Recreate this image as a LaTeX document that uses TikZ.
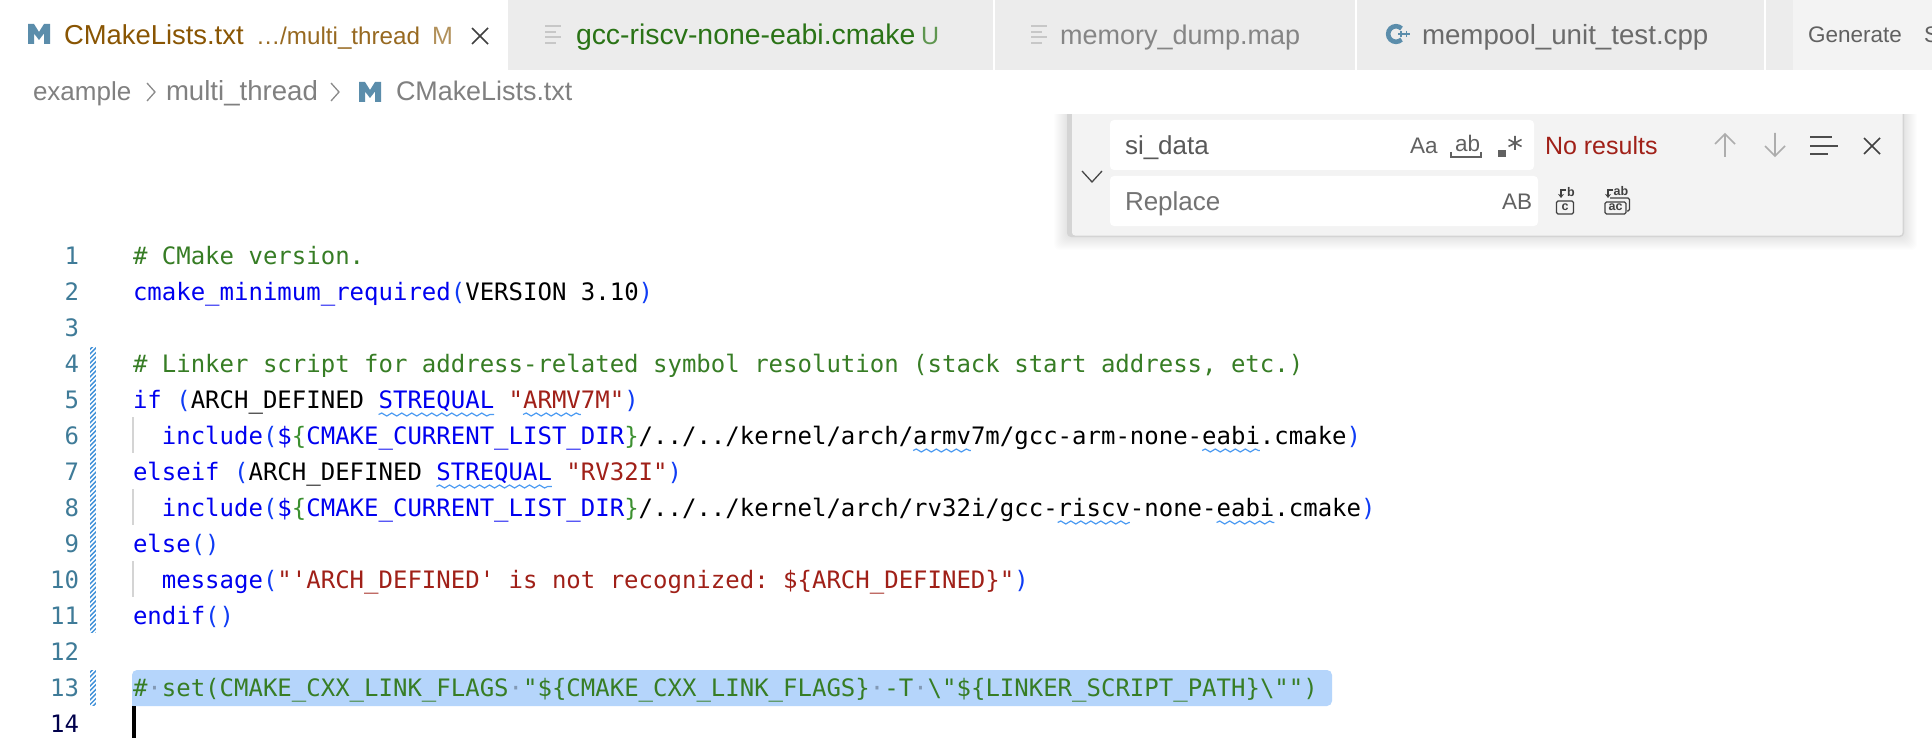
\documentclass[tikz,border=0pt]{standalone}
\usepackage{fontspec}
\setmainfont{Liberation Sans}
\setmonofont{DejaVu Sans Mono}
\usetikzlibrary{arrows.meta,decorations.pathmorphing}

\definecolor{iconblue}{HTML}{5B8DAB}
\definecolor{tabgray}{HTML}{ECECEC}
\definecolor{panelgray}{HTML}{F3F3F3}
\definecolor{modbrown}{HTML}{895503}
\definecolor{newgreen}{HTML}{2A7316}
\definecolor{cmt}{HTML}{377D25}
\definecolor{kwd}{HTML}{0000F0}
\definecolor{par}{HTML}{0F3CF5}
\definecolor{brc}{HTML}{3C9030}
\definecolor{str}{HTML}{A02018}
\definecolor{barblue}{HTML}{3F90D8}
\definecolor{squigblue}{HTML}{4C9BF2}
\definecolor{selblue}{HTML}{B5D5FB}
\definecolor{lnum}{HTML}{3F7B98}

\newcommand{\kw}[1]{\textcolor{kwd}{#1}}
\newcommand{\pr}[1]{\textcolor{par}{#1}}
\newcommand{\br}[1]{\textcolor{brc}{#1}}
\newcommand{\st}[1]{\textcolor{str}{#1}}
\newcommand{\sdot}{\textcolor{black!28!selblue}{·}}
\newcommand{\curdir}{\kw{\$}\br{\{}\kw{CMAKE\_CURRENT\_LIST\_DIR}\br{\}}}

\tikzset{
  ui/.style={inner sep=0pt, outer sep=0pt, anchor=base west},
  tabtext/.style={ui, font=\fontsize{27}{32}\selectfont},
  crumb/.style={ui, text=black!50, font=\fontsize{26}{32}\selectfont},
  findtext/.style={ui, font=\fontsize{26}{32}\selectfont},
  smalltext/.style={ui, text=black!62, font=\fontsize{22.5}{28}\selectfont},
  tinytext/.style={inner sep=0pt, outer sep=0pt, text=black!75, font=\fontsize{12.5}{14}\selectfont\bfseries},
  code/.style={ui, font=\ttfamily\fontsize{24}{36}\selectfont},
  linenum/.style={inner sep=0pt, outer sep=0pt, anchor=base east, text=lnum, font=\ttfamily\fontsize{24}{36}\selectfont},
  chev/.style={line width=1.3pt, black!45},
  fileline/.style={line width=2pt, black!22},
  squig/.style={squigblue, line width=1.2pt, decorate, decoration={snake, amplitude=1.5pt, segment length=10pt}},
  guide/.style={line width=2pt, black!17},
  micon/.pic={
    \fill[iconblue] (0,20) -- (0,0) -- (6,0) -- (11,8) -- (16,0) -- (22,0) -- (22,20) -- (16,20) %
      -- (16,9.5) -- (11,16) -- (6,9.5) -- (6,20) -- cycle;
  },
  fileicon/.pic={
    \draw[fileline] (0,0) -- (16,0) (0,6) -- (11,6) (0,11.5) -- (16,11.5) (0,17) -- (11,17);
  }
}

\newcommand{\hatchbar}[2]{
  \begin{scope}
    \clip (90,#1) rectangle (96,#2);
    \fill[barblue] (90,#1) rectangle (96,#2);
    \foreach \yy in {0,4.6,...,300}
      \draw[white, line width=1.5pt] (88,{#1+\yy+2}) -- (98,{#1+\yy-8});
  \end{scope}
}

\begin{document}
\begin{tikzpicture}[x=1pt, y=-1pt]
  \useasboundingbox (0,0) rectangle (1932,738);
  \fill[white] (0,0) rectangle (1932,738);

  % tab bar
  \fill[tabgray] (508,0) rectangle (1793,70);
  \fill[panelgray] (1793,0) rectangle (1932,70);
  \draw[white, line width=1.2pt] (994,0) -- (994,70) (1356,0) -- (1356,70) (1765,0) -- (1765,70);

  \pic at (28,24) {micon};
  \node[tabtext, text=modbrown, font=\fontsize{27.4}{32}\selectfont] (tabcmake) at (64,45) {CMakeLists.txt};
  \node[tabtext, text=modbrown!88!white, font=\fontsize{24.2}{32}\selectfont] (tabpath) at (256,45) {…/multi\_thread};
  \node[tabtext, text=modbrown!65!white, font=\fontsize{25}{32}\selectfont] (tabmark) at (432,45) {M};
  \draw[black!75, line width=1.5pt] (472,28) -- (488,44) (472,44) -- (488,28);

  \pic at (545,26) {fileicon};
  \node[tabtext, text=newgreen, font=\fontsize{28.4}{32}\selectfont] (tabgcc) at (576,45) {gcc-riscv-none-eabi.cmake};
  \node[tabtext, text=newgreen!75!white, font=\fontsize{25}{32}\selectfont] (tabnew) at (921,45) {U};

  \pic at (1031,26) {fileicon};
  \node[tabtext, text=black!48] (tabmap) at (1060,45) {memory\_dump.map};

  \draw[iconblue, line width=4.6pt] (1401.5,28.5) arc (-45:-315:7.8);
  \draw[iconblue, line width=1.3pt] (1398,34) -- (1404,34) (1401,31) -- (1401,37) %
    (1404,34) -- (1409.5,34) (1406.8,31) -- (1406.8,37);
  \node[tabtext, text=black!58, font=\fontsize{27.7}{32}\selectfont] (tabcpp) at (1422,45) {mempool\_unit\_test.cpp};

  \node[smalltext] (generate) at (1808,43) {Generate};
  \node[smalltext] (generateb) at (1924,43) {S};

  % breadcrumb
  \node[crumb] (crumbex) at (33,101) {example};
  \draw[chev] (147,83) -- (155,92) -- (147,101);
  \node[crumb, font=\fontsize{27.6}{32}\selectfont] (crumbdir) at (166,101) {multi\_thread};
  \draw[chev] (331,83) -- (339,92) -- (331,101);
  \pic at (359,82) {micon};
  \node[crumb, font=\fontsize{26.9}{32}\selectfont] (crumbfile) at (396,101) {CMakeLists.txt};

  % selection, guides and gutter
  \fill[selblue] (132,706) [rounded corners=5pt] -- (132,670) -- (1332,670) -- (1332,706) [sharp corners] -- cycle;
  \draw[guide] (133,417) -- (133,453) (133,489) -- (133,525) (133,561) -- (133,597);
  \hatchbar{347}{633}
  \hatchbar{670}{706}
  \fill[black] (132,706) rectangle (136,738);

  \foreach \n in {1,...,13}
    \node[linenum] (num\n) at (79,{264+36*(\n-1)}) {\n};
  \node[linenum, text=black!40!blue!50!black] (num14) at (79,732) {14};

  % code
  \node[code, text=cmt] (line1) at (133,264) {\# CMake version.};
  \node[code] (line2) at (133,300) {\kw{cmake\_minimum\_required}\pr{(}VERSION 3.10\pr{)}};
  \node[code, text=cmt] (line4) at (133,372) {\# Linker script for address-related symbol resolution (stack start address, etc.)};
  \node[code] (line5) at (133,408) {\kw{if} \pr{(}ARCH\_DEFINED \kw{STREQUAL} \st{"ARMV7M"}\pr{)}};
  \node[code] (line6) at (133,444) {\ \ \kw{include}\pr{(}\curdir/../../kernel/arch/armv7m/gcc-arm-none-eabi.cmake\pr{)}};
  \node[code] (line7) at (133,480) {\kw{elseif} \pr{(}ARCH\_DEFINED \kw{STREQUAL} \st{"RV32I"}\pr{)}};
  \node[code] (line8) at (133,516) {\ \ \kw{include}\pr{(}\curdir/../../kernel/arch/rv32i/gcc-riscv-none-eabi.cmake\pr{)}};
  \node[code] (line9) at (133,552) {\kw{else}\pr{()}};
  \node[code] (line10) at (133,588) {\ \ \kw{message}\pr{(}\st{"'ARCH\_DEFINED' is not recognized: \$\{ARCH\_DEFINED\}"}\pr{)}};
  \node[code] (line11) at (133,624) {\kw{endif}\pr{()}};
  \node[code, text=cmt] (line13) at (133,696) {\#\sdot set(CMAKE\_CXX\_LINK\_FLAGS\sdot "\$\{CMAKE\_CXX\_LINK\_FLAGS\}\sdot -T\sdot \textbackslash"\$\{LINKER\_SCRIPT\_PATH\}\textbackslash"")};

  \foreach \ln/\ca/\cb in {5/17/25, 5/27/31, 6/54/58, 6/74/78, 7/21/29, 8/64/69, 8/75/79}
    \draw[squig] ({133+14.448*\ca},{270.5+36*(\ln-1)}) -- ({133+14.448*\cb},{270.5+36*(\ln-1)});

  % find widget
  \begin{scope}
    \clip (1030,114) rectangle (1932,270);
    \foreach \s in {1,...,14}
      \fill[black, opacity=0.007, rounded corners=6pt] ({1068-\s},100) rectangle ({1903+\s},{236+\s});
  \end{scope}
  \fill[black!17, rounded corners=4pt] (1067,100) rectangle (1904,237);
  \fill[panelgray, rounded corners=3pt] (1072,100) rectangle (1902.5,235.5);
  \fill[white] (1000,90) rectangle (1932,114);
  \fill[white, rounded corners=4pt] (1110,120) rectangle (1534,170);
  \fill[white, rounded corners=4pt] (1110,176) rectangle (1538,226);
  \draw[black!72, line width=1.3pt] (1082,171) -- (1092,182) -- (1102,171);

  \node[findtext, text=black!65] (findterm) at (1125,155) {si\_data};
  \node[findtext, text=black!55] (replaceterm) at (1125,211) {Replace};
  \node[smalltext] (casebtn) at (1410,154) {Aa};
  \node[smalltext] (wordbtn) at (1455,152) {ab};
  \draw[black!62, line width=1.3pt] (1451,152) -- (1451,157) -- (1481,157) -- (1481,152);
  \fill[black!62] (1498,150) rectangle (1506,157);
  \draw[black!62, line width=1.6pt] (1515,136) -- (1515,150) (1508.5,139.5) -- (1521.5,146.5) (1508.5,146.5) -- (1521.5,139.5);
  \node[smalltext] (preservebtn) at (1502,209) {AB};
  \node[findtext, text=str, font=\fontsize{25}{32}\selectfont] (noresults) at (1545,155) {No results};

  \draw[black!32, line width=1.6pt] (1725,157) -- (1725,134) (1715,144) -- (1725,134) -- (1735,144);
  \draw[black!32, line width=1.6pt] (1775,133) -- (1775,156) (1765,146) -- (1775,156) -- (1785,146);
  \draw[black!70, line width=1.4pt] (1810,137) -- (1832,137) (1810,146) -- (1838,146) (1810,154) -- (1828,154);
  \draw[black!75, line width=1.5pt] (1864,138) -- (1880,154) (1864,154) -- (1880,138);

  \draw[black!75, line width=1.3pt, rounded corners=1.5pt] (1556.5,201) rectangle (1573.5,214);
  \node[tinytext] (replacec) at (1565,207.5) {c};
  \node[tinytext] (replaceb) at (1571,192) {b};
  \draw[black!75, line width=1.4pt, -{Stealth[length=4pt,width=6pt]}] (1566,190) -- (1561,190) -- (1561,198);

  \draw[black!75, line width=1.3pt, rounded corners=1.5pt] (1605,202) rectangle (1626,214);
  \draw[black!75, line width=1.3pt, rounded corners=1.5pt] (1610,198) -- (1629.5,198) -- (1629.5,211) -- (1627,211);
  \node[tinytext] (replaceac) at (1615.5,207.5) {ac};
  \node[tinytext] (replaceab) at (1621,191) {ab};
  \draw[black!75, line width=1.4pt, -{Stealth[length=4pt,width=6pt]}] (1613,190) -- (1608,190) -- (1608,198);
\end{tikzpicture}
\end{document}
